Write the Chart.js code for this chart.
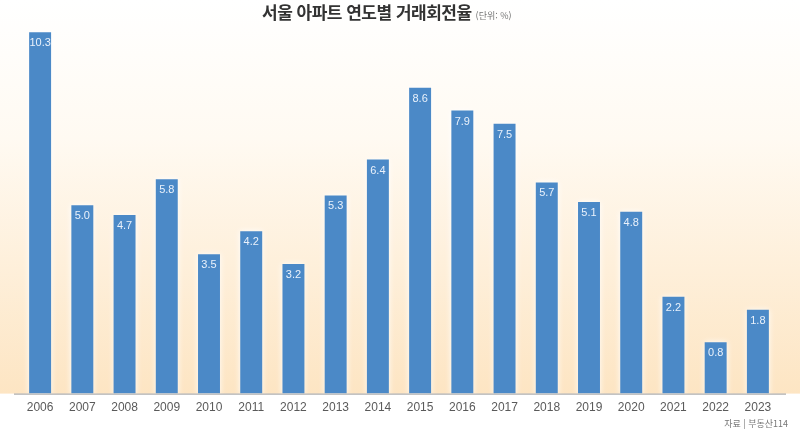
<!DOCTYPE html>
<html lang="ko">
<head>
<meta charset="utf-8">
<title>서울 아파트 연도별 거래회전율</title>
<script src="https://cdn.jsdelivr.net/npm/chart.js@4/dist/chart.umd.min.js"></script>
<style>
    html, body { margin: 0; padding: 0; background: #ffffff; }
    #wrap { position: relative; width: 800px; height: 433px; overflow: hidden; }
    #turnoverChart { position: absolute; left: 0; top: 0; }
    .chart-title {
        position: absolute; left: 262px; top: -1px; white-space: nowrap;
        font-family: "Noto Sans CJK KR", sans-serif; font-weight: 700; font-size: 17px;
        color: #333333; letter-spacing: -0.5px; z-index: 2;
    }
    .chart-title small { font-size: 9px; font-weight: 400; color: #777777; margin-left: 4px; letter-spacing: 0; }
    .chart-source {
        position: absolute; right: 12px; top: 417px;
        font-family: "Noto Sans CJK KR", sans-serif; font-size: 9px; color: #777777; z-index: 2;
    }
</style>
</head>
<body>
<div id="wrap">
    <canvas id="turnoverChart" width="800" height="433"></canvas>
    <div class="chart-title">서울 아파트 연도별 거래회전율<small>(단위: %)</small></div>
    <div class="chart-source">자료 | 부동산114</div>
</div>
<script>
const years = ["2006", "2007", "2008", "2009", "2010", "2011", "2012", "2013", "2014",
    "2015", "2016", "2017", "2018", "2019", "2020", "2021", "2022", "2023"];
const turnoverRate = [10.3, 5.0, 4.7, 5.8, 3.5, 4.2, 3.2, 5.3, 6.4,
    8.6, 7.9, 7.5, 5.7, 5.1, 4.8, 2.2, 0.8, 1.8];

const AXIS_MIN = -0.77;
const AXIS_MAX = 10.43;

// peach gradient behind the plot
const backgroundPlugin = {
    id: "bgGradient",
    beforeDraw(chart) {
        const { ctx, chartArea } = chart;
        const grad = ctx.createLinearGradient(0, 0, 0, chartArea.bottom);
        grad.addColorStop(0, "#ffffff");
        grad.addColorStop(0.35, "#fffaf2");
        grad.addColorStop(1, "#fde5c3");
        ctx.save();
        ctx.fillStyle = grad;
        ctx.fillRect(0, 0, chart.width, chartArea.bottom);
        ctx.strokeStyle = "#9a9a9a";
        ctx.lineWidth = 1;
        ctx.beginPath();
        ctx.moveTo(14, chartArea.bottom + 0.5);
        ctx.lineTo(786, chartArea.bottom + 0.5);
        ctx.stroke();
        ctx.restore();
    }
};

const glowPlugin = {
    id: "barGlow",
    beforeDatasetsDraw(chart) {
        chart.ctx.save();
        chart.ctx.shadowColor = "rgba(255,255,255,0.95)";
        chart.ctx.shadowBlur = 6;
    },
    afterDatasetsDraw(chart) {
        chart.ctx.restore();
    }
};

const valueLabelPlugin = {
    id: "valueLabels",
    afterDatasetsDraw(chart) {
        const { ctx } = chart;
        const meta = chart.getDatasetMeta(0);
        ctx.save();
        ctx.font = "11px 'Liberation Sans', sans-serif";
        ctx.fillStyle = "#e9f1fb";
        ctx.textAlign = "center";
        ctx.textBaseline = "middle";
        meta.data.forEach((bar, i) => {
            ctx.fillText(turnoverRate[i].toFixed(1), bar.x, bar.y + 11);
        });
        ctx.restore();
    }
};

new Chart(document.getElementById("turnoverChart"), {
    type: "bar",
    data: {
        labels: years,
        datasets: [{
            data: turnoverRate,
            base: AXIS_MIN,
            backgroundColor: "#4b89c7",
            borderWidth: 0,
            barPercentage: 0.52,
            categoryPercentage: 1
        }]
    },
    options: {
        responsive: false,
        animation: false,
        layout: { padding: { top: 28, left: 19, right: 21, bottom: 11 } },
        plugins: {
            legend: { display: false },
            tooltip: { enabled: false }
        },
        scales: {
            x: {
                grid: { display: false, drawTicks: false },
                border: { display: false },
                ticks: {
                    color: "#5a5a5a",
                    padding: 7,
                    font: { family: "Liberation Sans", size: 12 }
                }
            },
            y: {
                display: false,
                min: AXIS_MIN,
                max: AXIS_MAX
            }
        }
    },
    plugins: [backgroundPlugin, glowPlugin, valueLabelPlugin]
});
</script>
</body>
</html>
